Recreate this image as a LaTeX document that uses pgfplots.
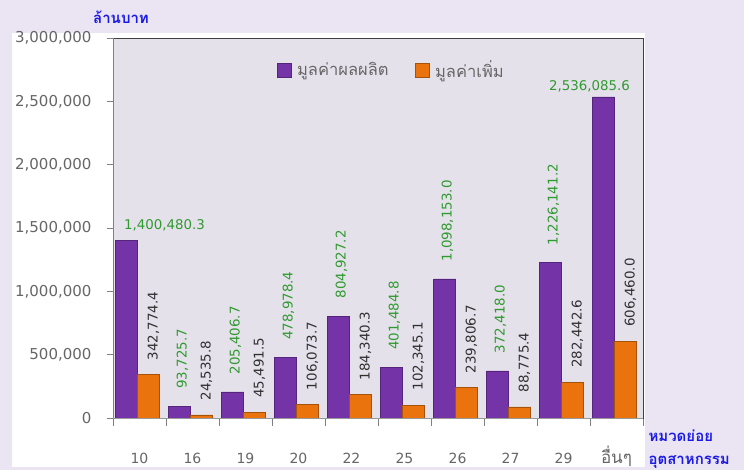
\documentclass[border=0pt]{standalone}
\usepackage{fontspec}
\setmainfont{DejaVu Sans}
\newfontfamily\thaifont[Script=Thai]{Loma}
\usepackage{pgfplots}
\pgfplotsset{compat=1.18}

\definecolor{bgout}{HTML}{EBE5F3}
\definecolor{plotbg}{HTML}{E5E1EB}
\definecolor{prod}{HTML}{7533A8}
\definecolor{prodedge}{HTML}{55247C}
\definecolor{added}{HTML}{EA730E}
\definecolor{addededge}{HTML}{A5520A}
\definecolor{lblgreen}{HTML}{2F9A2F}
\definecolor{lbldark}{HTML}{303030}
\definecolor{ttlblue}{HTML}{1A1AE6}
\definecolor{tickgray}{HTML}{666666}

\pgfplotsset{
    sqlegend/.style={legend image code/.code={\fill[##1] (0pt,-7pt) rectangle (14pt,7pt);}},
}

\begin{document}
\begin{tikzpicture}
\useasboundingbox (0pt,0pt) rectangle (744pt,470pt);
\fill[bgout] (0pt,0pt) rectangle (744pt,470pt);
\fill[white] (12pt,3pt) rectangle (645pt,437pt);

\begin{axis}[
    at={(113pt,52pt)}, anchor=south west,
    scale only axis,
    width=530pt, height=380pt,
    axis background/.style={fill=plotbg},
    axis line style={draw=black!75, line width=0.8pt},
    ybar, bar width=22pt,
    xmin=-0.5, xmax=9.5,
    ymin=0, ymax=3000000,
    xtick={0,...,9},
    xticklabels={10,16,19,20,22,25,26,27,29,{\thaifont\fontsize{17}{19}\selectfont อื่นๆ}},
    minor xtick={-0.5,0.5,...,9.5},
    major x tick style={draw=none},
    minor x tick style={draw=gray, line width=0.8pt},
    minor tick length=8pt,
    ytick={0,500000,...,3000000},
    major tick length=6pt,
    y tick style={draw=gray, line width=0.8pt},
    tick align=outside,
    xtick pos=bottom, ytick pos=left,
    scaled y ticks=false,
    yticklabel={\pgfmathprintnumber[assume math mode=true, fixed, 1000 sep={,}]{\tick}},
    yticklabel style={font=\fontsize{15}{17}\selectfont, text=tickgray, xshift=-12pt},
    xticklabel style={font=\fontsize{14}{16}\selectfont, text=tickgray,
        anchor=base, yshift=-40pt},
    legend style={at={(0.525,0.916)}, anchor=center, draw=none, fill=none,
        font=\thaifont\fontsize{16.5}{18}\selectfont, text=tickgray,
        /tikz/every odd column/.append style={column sep=4pt},
        /tikz/every even column/.append style={column sep=24pt}},
    legend columns=2,
    point meta=explicit symbolic,
    after end axis/.code={
        \draw[gray, line width=0.8pt] (rel axis cs:0,0) -- (rel axis cs:0,1);
        \draw[gray!80, line width=0.8pt] (rel axis cs:0,0) -- (rel axis cs:1,0);
    },
]

% production value
\addplot[fill=prod, draw=prodedge, bar shift=-13pt, sqlegend]
coordinates {
    (0,1400480.3) (1,93725.7) (2,205406.7) (3,478978.4) (4,804927.2)
    (5,401484.8) (6,1098153.0) (7,372418.0) (8,1226141.2) (9,2536085.6)
};
% value added
\addplot[fill=added, draw=addededge, bar shift=9pt, sqlegend,
    nodes near coords,
    nodes near coords style={font=\fontsize{13.4}{15}\selectfont, text=lbldark,
        shift={(5pt,11pt)}, rotate=90, anchor=west}]
coordinates {
    (0,342774.4) [{342,774.4}]
    (1,24535.8) [{24,535.8}]
    (2,45491.5) [{45,491.5}]
    (3,106073.7) [{106,073.7}]
    (4,184340.3) [{184,340.3}]
    (5,102345.1) [{102,345.1}]
    (6,239806.7) [{239,806.7}]
    (7,88775.4) [{88,775.4}]
    (8,282442.6) [{282,442.6}]
    (9,606460.0) [{606,460.0}]
};
\legend{มูลค่าผลผลิต, มูลค่าเพิ่ม}

% labels of the production bars
\addplot[forget plot, draw=none, fill=none, bar shift=-13pt,
    nodes near coords,
    nodes near coords style={font=\fontsize{13.4}{15}\selectfont, text=lblgreen,
        shift={(3pt,14pt)}, rotate=90, anchor=west}]
coordinates {
    (1,93725.7) [{93,725.7}]
    (2,205406.7) [{205,406.7}]
    (3,478978.4) [{478,978.4}]
    (4,804927.2) [{804,927.2}]
    (5,401484.8) [{401,484.8}]
    (6,1098153.0) [{1,098,153.0}]
    (7,372418.0) [{372,418.0}]
    (8,1226141.2) [{1,226,141.2}]
};
\addplot[forget plot, draw=none, fill=none, bar shift=-13pt,
    nodes near coords,
    nodes near coords style={font=\fontsize{13.4}{15}\selectfont, text=lblgreen,
        anchor=south west, xshift=-6pt, yshift=6pt}]
coordinates {(0,1400480.3) [{1,400,480.3}]};
\addplot[forget plot, draw=none, fill=none, bar shift=-13pt,
    nodes near coords,
    nodes near coords style={font=\fontsize{13.4}{15}\selectfont, text=lblgreen,
        anchor=south, xshift=-14pt, yshift=1pt}]
coordinates {(9,2536085.6) [{2,536,085.6}]};
\end{axis}

\node[text=ttlblue, font=\thaifont\bfseries\fontsize{15}{17}\selectfont] at (121pt,453pt) {ล้านบาท};
\node[text=ttlblue, font=\thaifont\bfseries\fontsize{15}{17}\selectfont, anchor=west] at (645pt,34pt) {หมวดย่อย};
\node[text=ttlblue, font=\thaifont\bfseries\fontsize{15}{17}\selectfont, anchor=west] at (645pt,8pt) {อุตสาหกรรม};
\end{tikzpicture}
\end{document}
